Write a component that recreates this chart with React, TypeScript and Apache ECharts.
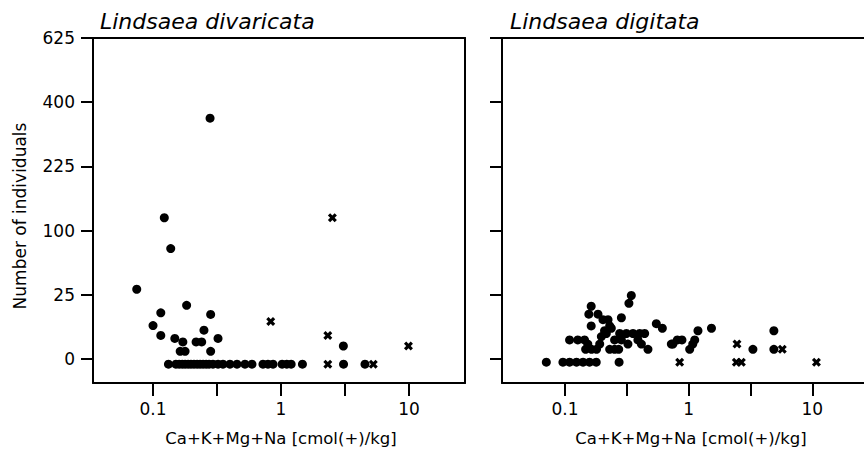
import React, { useEffect, useRef } from "react";
import * as echarts from "echarts";

// ---- tick labels ----
const xTickValues = [0.1, 1, 10];
const xTickLabels = ["0.1", "1", "10"];
const xTickMarks = [0.1, 0.3162, 1, 3.162, 10];
const yTickValues = [0, 25, 100, 225, 400, 625];

// ---- titles ----
const panelTitles = ["Lindsaea divaricata", "Lindsaea digitata"];
const xAxisName = "Ca+K+Mg+Na [cmol(+)/kg]";
const yAxisName = "Number of individuals";

// ---- Lindsaea divaricata ----
const divCircleX = [
  0.279, 0.1225, 0.1375, 0.0746, 0.115, 0.1, 0.115, 0.183, 0.282, 0.25, 0.148, 0.171, 0.217,
  0.24, 0.322, 0.163, 0.178, 0.282, 3.07,
  0.132, 0.151, 0.16, 0.169, 0.178, 0.188, 0.198, 0.209, 0.221, 0.233, 0.246, 0.26, 0.274,
  0.294, 0.322, 0.352, 0.399, 0.453, 0.523, 0.593, 0.723, 0.791, 0.866, 1.02, 1.11, 1.2, 1.47,
  3.08, 4.53,
];
const divCircleN = [
  367, 130, 81, 34, 16, 9, 5, 21, 15, 7, 4, 3, 3,
  3, 4, 1, 1, 1, 2,
  0, 0, 0, 0, 0, 0, 0, 0, 0, 0, 0, 0, 0,
  0, 0, 0, 0, 0, 0, 0, 0, 0, 0, 0, 0, 0, 0,
  0, 0,
];
const divCrossX = [2.52, 0.831, 2.32, 2.32, 5.26, 9.9];
const divCrossN = [130, 11, 5, 0, 0, 2];

// ---- Lindsaea digitata ----
const digCircleX = [
  0.0707, 0.0963, 0.109, 0.124, 0.14, 0.158, 0.179, 0.274,
  0.344, 0.329, 0.163, 0.156, 0.185, 0.203, 0.223, 0.163, 0.23, 0.237, 0.286, 0.209, 0.216,
  0.197, 0.277, 0.314, 0.355, 0.402, 0.441, 0.252, 0.286, 0.323, 0.389, 0.109, 0.127, 0.144,
  0.153, 0.164, 0.18, 0.191, 0.147, 0.272, 0.469, 0.23, 0.252, 0.548, 0.613, 0.415, 0.746,
  0.81, 0.883, 0.725, 1.02, 1.08, 1.12, 1.19, 1.53, 3.31, 4.89, 4.89,
];
const digCircleN = [
  0, 0, 0, 0, 0, 0, 0, 0,
  27, 21, 19, 14, 14, 11, 11, 8, 8, 7, 12, 6, 5,
  4, 5, 5, 5, 5, 5, 3, 3, 2, 3, 3, 3, 3,
  2, 1, 1, 2, 1, 1, 1, 1, 1, 9, 7, 2, 2,
  3, 3, 2, 1, 2, 3, 6, 7, 1, 6, 1,
];
const digCrossX = [0.846, 2.43, 2.67, 10.8, 2.46, 5.72];
const digCrossN = [0, 0, 0, 0, 2, 1];

// display shift on the square-root scale (points drawn slightly below their value)
const SHIFT_DIV = 0.4;
const SHIFT_DIG = 0.25;

const CROSS =
  "path://M0,2.5L2.5,0L5,2.5L7.5,0L10,2.5L7.5,5L10,7.5L7.5,10L5,7.5L2.5,10L0,7.5L2.5,5Z";

const FONT = "DejaVu Sans";

function pts(xs: number[], ns: number[], shift: number) {
  return xs.map((x, i) => [Math.log10(x), Math.sqrt(ns[i]) - shift]);
}

function xLabel(v: number) {
  let best = 0;
  let d = Infinity;
  xTickValues.forEach((t, i) => {
    const dd = Math.abs(Math.log10(t) - v);
    if (dd < d) {
      d = dd;
      best = i;
    }
  });
  return xTickLabels[best];
}

export default function App() {
  const ref = useRef<HTMLDivElement>(null);

  useEffect(() => {
    if (!ref.current) return;
    const chart = echarts.init(ref.current, null, { renderer: "svg" });

    const yMin = -1.869;
    const yMax = 25;
    const xRanges = [
      [-1.469, 1.4375],
      [-1.509, 1.418],
    ];

    const mkBottomX = (gi: number) => ({
      type: "value",
      gridIndex: gi,
      position: "bottom",
      min: xRanges[gi][0],
      max: xRanges[gi][1],
      axisLine: { show: true, onZero: false, lineStyle: { color: "#000", width: 2 } },
      axisTick: {
        show: true,
        inside: false,
        length: 13,
        lineStyle: { color: "#000", width: 2 },
        customValues: xTickMarks.map((v) => Math.log10(v)),
      },
      axisLabel: {
        show: true,
        margin: 17,
        color: "#000",
        fontSize: 17,
        fontFamily: FONT,
        customValues: xTickValues.map((v) => Math.log10(v)),
        formatter: (v: number) => xLabel(v),
      },
      splitLine: { show: false },
    });
    const mkTopX = (gi: number) => ({
      type: "value",
      gridIndex: gi,
      position: "top",
      min: xRanges[gi][0],
      max: xRanges[gi][1],
      axisLine: { show: true, onZero: false, lineStyle: { color: "#000", width: 2 } },
      axisTick: { show: false },
      axisLabel: { show: false },
      splitLine: { show: false },
    });
    const mkLeftY = (gi: number, labels: boolean) => ({
      type: "value",
      gridIndex: gi,
      position: "left",
      min: yMin,
      max: yMax,
      axisLine: { show: true, onZero: false, lineStyle: { color: "#000", width: 2 } },
      axisTick: {
        show: true,
        inside: false,
        length: 12,
        lineStyle: { color: "#000", width: 2 },
        customValues: yTickValues.map((v) => Math.sqrt(v)),
      },
      axisLabel: {
        show: labels,
        margin: 18,
        color: "#000",
        fontSize: 17,
        fontFamily: FONT,
        customValues: yTickValues.map((v) => Math.sqrt(v)),
        formatter: (v: number) => String(Math.round(v * v)),
      },
      splitLine: { show: false },
    });

    const markStyle = { color: "#000", opacity: 1 };

    chart.setOption({
      animation: false,
      backgroundColor: "#fff",
      grid: [
        { left: 93, top: 38, width: 372, height: 345 },
        { left: 502, top: 38, width: 362, height: 345 },
      ],
      xAxis: [mkBottomX(0), mkBottomX(1), mkTopX(0), mkTopX(1)],
      yAxis: [
        mkLeftY(0, true),
        mkLeftY(1, false),
        {
          type: "value",
          gridIndex: 0,
          position: "right",
          min: yMin,
          max: yMax,
          axisLine: { show: true, onZero: false, lineStyle: { color: "#000", width: 2 } },
          axisTick: { show: false },
          axisLabel: { show: false },
          splitLine: { show: false },
        },
      ],
      series: [
        {
          type: "scatter",
          xAxisIndex: 0,
          yAxisIndex: 0,
          symbol: "circle",
          symbolSize: 9,
          itemStyle: markStyle,
          data: pts(divCircleX, divCircleN, SHIFT_DIV),
        },
        {
          type: "scatter",
          xAxisIndex: 0,
          yAxisIndex: 0,
          symbol: CROSS,
          symbolSize: 9,
          itemStyle: markStyle,
          data: pts(divCrossX, divCrossN, SHIFT_DIV),
        },
        {
          type: "scatter",
          xAxisIndex: 1,
          yAxisIndex: 1,
          symbol: "circle",
          symbolSize: 9,
          itemStyle: markStyle,
          data: pts(digCircleX, digCircleN, SHIFT_DIG),
        },
        {
          type: "scatter",
          xAxisIndex: 1,
          yAxisIndex: 1,
          symbol: CROSS,
          symbolSize: 9,
          itemStyle: markStyle,
          data: pts(digCrossX, digCrossN, SHIFT_DIG),
        },
      ],
      graphic: [
        {
          type: "text",
          left: 100,
          top: 10,
          style: {
            text: panelTitles[0],
            font: `italic 22px "${FONT}"`,
            fill: "#000",
          },
        },
        {
          type: "text",
          left: 510,
          top: 10,
          style: {
            text: panelTitles[1],
            font: `italic 22px "${FONT}"`,
            fill: "#000",
          },
        },
        {
          type: "text",
          x: 20,
          y: 216,
          rotation: Math.PI / 2,
          style: {
            text: yAxisName,
            font: `17px "${FONT}"`,
            fill: "#000",
            align: "center",
            verticalAlign: "middle",
          },
        },
        {
          type: "text",
          x: 281,
          y: 438,
          style: {
            text: xAxisName,
            font: `16.5px "${FONT}"`,
            fill: "#000",
            align: "center",
            verticalAlign: "middle",
          },
        },
        {
          type: "text",
          x: 691,
          y: 438,
          style: {
            text: xAxisName,
            font: `16.5px "${FONT}"`,
            fill: "#000",
            align: "center",
            verticalAlign: "middle",
          },
        },
      ],
    });

    return () => chart.dispose();
  }, []);

  return (
    <div
      ref={ref}
      style={{ position: "absolute", left: 0, top: 0, width: 864, height: 452, background: "#fff" }}
    />
  );
}
